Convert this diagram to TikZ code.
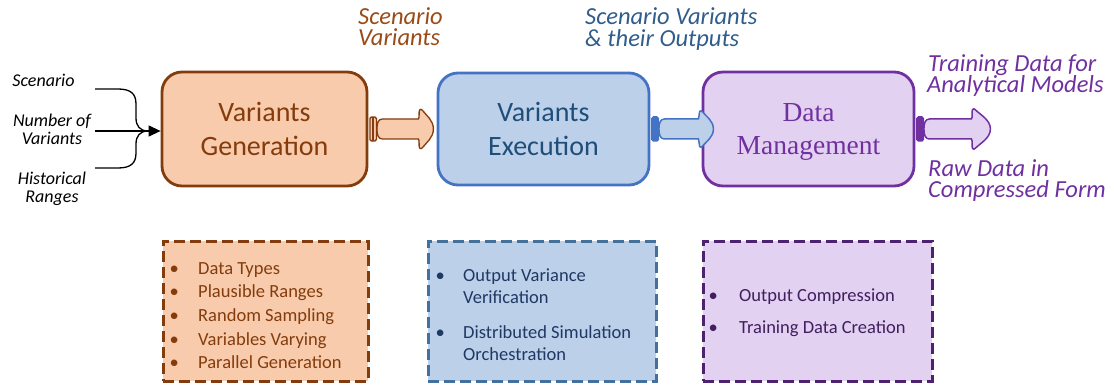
\documentclass[tikz,border=0pt]{standalone}
\usepackage{fontspec}
\setmainfont{Carlito}
\newfontfamily\serifface{Liberation Serif}
\usetikzlibrary{arrows.meta}

\definecolor{genfill}{HTML}{F8CBAD}
\definecolor{genline}{HTML}{843C0C}
\definecolor{genlabel}{HTML}{9A4B17}
\definecolor{exefill}{HTML}{BCD0EA}
\definecolor{exeline}{HTML}{4472C4}
\definecolor{exetext}{HTML}{1F4E79}
\definecolor{exelabel}{HTML}{2F5D8C}
\definecolor{exedash}{HTML}{41719C}
\definecolor{exeitem}{HTML}{203864}
\definecolor{dmfill}{HTML}{E3D1F2}
\definecolor{dmline}{HTML}{7030A0}
\definecolor{dmdash}{HTML}{4E2270}
\definecolor{dmitem}{HTML}{3F1F5F}

\tikzset{
  % plug + shaft + rounded head; args: shaft end / tip / head half-height / plug fill
  pics/plugarrow/.style args={#1/#2/#3/#4}{code={
    \path[pic actions] (#1,-10) -- (14,-10)
      .. controls (10,-10) and (8.5,-6) .. (8.5,0)
      .. controls (8.5,6) and (10,10) .. (14,10) -- (#1,10)
      .. controls (#1+1.5,12) and (#1,#3-2.5) .. (#1+1.2,#3-0.5)
      .. controls (#1+2,#3+0.6) and (#1+3,#3+0.3) .. (#1+4,#3-0.8)
      .. controls ({#1+4+0.35*(#2-#1-4)},{0.7*#3}) and (#2,{0.45*#3}) .. (#2,0)
      .. controls (#2,{-0.45*#3}) and ({#1+4+0.35*(#2-#1-4)},{-0.7*#3}) .. (#1+4,-#3+0.8)
      .. controls (#1+3,-#3-0.3) and (#1+2,-#3-0.6) .. (#1+1.2,-#3+0.5)
      .. controls (#1,-#3+2.5) and (#1+1.5,-12) .. (#1,-10) -- cycle;
    \path[pic actions, fill=#4, rounded corners=1.5pt] (1.5,-12) rectangle (8,12);
    \path[pic actions] (4.7,-12) -- (4.7,12);
  }},
  mainbox/.style={rectangle, rounded corners=20pt, line width=2.8pt,
    align=center, inner sep=0pt},
  listbox/.style={rectangle, line width=3pt, dash pattern=on 11pt off 5pt,
    inner sep=0pt},
  toplabel/.style={anchor=base west, inner sep=0pt, text height=16pt, text depth=4pt,
    font=\fontsize{24.5}{22}\selectfont\itshape},
  inlabel/.style={anchor=base, inner sep=0pt, text height=12pt, text depth=3.5pt,
    font=\fontsize{18}{19}\selectfont\itshape},
  itemtext/.style={anchor=base west, inner sep=0pt,
    font=\fontsize{18.5}{22.5}\selectfont},
  inline/.style={line width=1.3pt, black},
}

\begin{document}
\begin{tikzpicture}[x=1pt,y=-1pt]
\useasboundingbox (0,0) rectangle (1114,385);

% input labels
\node[inlabel] (inScen) at (43.5,87) {Scenario};
\node[inlabel] (inNumA) at (52,127) {Number of};
\node[inlabel] (inNumB) at (52,145) {Variants};
\node[inlabel] (inHistA) at (52,184) {Historical};
\node[inlabel] (inHistB) at (52,202) {Ranges};

% main stages
\node[mainbox, fill=genfill, draw=genline, text=genline,
  minimum width=205pt, minimum height=114pt,
  font=\fontsize{28}{34}\selectfont] (gen) at (264.5,129) {Variants\\Generation};
\node[mainbox, fill=exefill, draw=exeline, text=exetext,
  minimum width=211pt, minimum height=112pt,
  font=\fontsize{28}{34}\selectfont] (exe) at (543.5,129) {Variants\\Execution};
\node[mainbox, fill=dmfill, draw=dmline, text=dmline, text depth=0pt,
  minimum width=211pt, minimum height=114pt,
  font=\serifface\fontsize{27.5}{33.5}\selectfont] (dm) at (808.5,129) {Data\\Management};

% inputs merging into the first stage
\coordinate (t0) at (95,89);
\coordinate (m0) at (95,131);
\coordinate (b0) at (95,168);
\coordinate (j) at (148,131);
\draw[inline] (t0) -- (118,89) .. controls (131,89) and (136,94) .. (136,104)
  -- (136,118) .. controls (136,126) and (140,131) .. (j);
\draw[inline] (b0) -- (118,168) .. controls (131,168) and (136,163) .. (136,153)
  -- (136,144) .. controls (136,136) and (140,131) .. (j);
\draw[inline, -{Triangle[length=12pt,width=11pt]}] (m0) -- (gen.west |- m0);

% stage outputs
\pic[draw=genline, fill=genfill, line width=1.3pt] at (gen.east) {plugarrow=50/65/19.5/genfill};
\pic[draw=exeline, fill=exefill, line width=1.5pt] at (exe.east) {plugarrow=48/63/18/exeline};
\pic[draw=dmline, fill=dmfill, line width=1.5pt] at (dm.east) {plugarrow=56/75/20/dmline};

% output labels
\node[toplabel, text=genlabel] (svA) at (358,25) {Scenario};
\node[toplabel, text=genlabel] (svB) at (358,46) {Variants};
\node[toplabel, text=exelabel] (soA) at (585,25) {Scenario Variants};
\node[toplabel, text=exelabel] (soB) at (585,47) {\& their Outputs};
\node[toplabel, text=dmline] (tdA) at (928,71.5) {Training Data for};
\node[toplabel, text=dmline] (tdB) at (927,93) {Analytical Models};
\node[toplabel, text=dmline] (rdA) at (928,176.5) {Raw Data in};
\node[toplabel, text=dmline] (rdB) at (928,197) {Compressed Form};

% detail boxes
\node[listbox, fill=genfill, draw=genline, minimum width=205pt, minimum height=140pt] (genList) at (265.5,311) {};
\node[listbox, fill=exefill, draw=exedash, minimum width=228pt, minimum height=140pt] (exeList) at (542,311) {};
\node[listbox, fill=dmfill, draw=dmdash, minimum width=229pt, minimum height=140pt] (dmList) at (817.5,311) {};

% generation details
\node[itemtext, text=genline] (g1) at (169.5,274) {\makebox[28.5pt][l]{•}Data Types};
\node[itemtext, text=genline] (g2) at (169.5,297.5) {\makebox[28.5pt][l]{•}Plausible Ranges};
\node[itemtext, text=genline] (g3) at (169.5,321.5) {\makebox[28.5pt][l]{•}Random Sampling};
\node[itemtext, text=genline] (g4) at (169.5,345) {\makebox[28.5pt][l]{•}Variables Varying};
\node[itemtext, text=genline] (g5) at (169.5,368) {\makebox[28.5pt][l]{•}Parallel Generation};

% execution details
\node[itemtext, text=exeitem] (e1) at (435.4,281) {\makebox[27.6pt][l]{•}Output Variance};
\node[itemtext, text=exeitem] (e1b) at (463,303.7) {Verification};
\node[itemtext, text=exeitem] (e2) at (435.4,338) {\makebox[27.6pt][l]{•}Distributed Simulation};
\node[itemtext, text=exeitem] (e2b) at (463,360) {Orchestration};

% data management details
\node[itemtext, text=dmitem] (d1) at (708.4,301.7) {\makebox[30.6pt][l]{•}Output Compression};
\node[itemtext, text=dmitem] (d2) at (708.4,333.3) {\makebox[30.6pt][l]{•}Training Data Creation};
\end{tikzpicture}
\end{document}
